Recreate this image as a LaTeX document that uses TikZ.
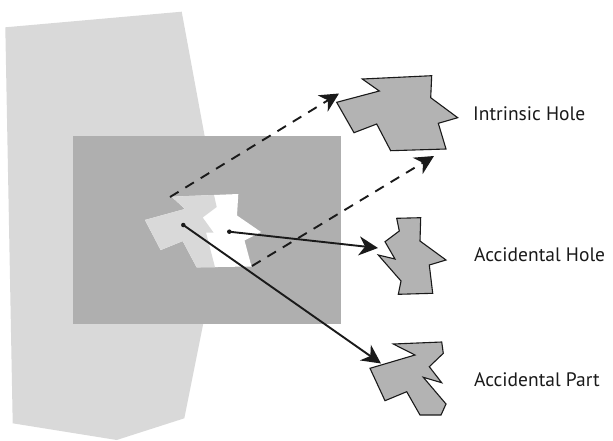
\documentclass[tikz,border=0pt]{standalone}
\usepackage{fontspec}
\setmainfont{PT Sans}
\usetikzlibrary{arrows.meta}
\definecolor{pale}{HTML}{D9D9D9}
\definecolor{slab}{HTML}{AFAFAF}
\definecolor{shapefill}{HTML}{B3B3B3}
\definecolor{ink}{HTML}{1A1A1A}
\begin{document}
\begin{tikzpicture}[x=1pt,y=-1pt,
  shapeline/.style={draw=ink, line width=1.1pt, fill=shapefill, line join=miter},
  flow/.style={line width=1.9pt, draw=ink, -{Stealth[length=19pt,width=19pt,inset=6pt]}},
  dashflow/.style={flow, dash pattern=on 10pt off 8pt},
  tag/.style={anchor=base west, font=\fontsize{19.5}{22}\selectfont, text=ink, inner sep=0pt},
  dotmark/.style={circle, fill=ink, inner sep=0pt, minimum size=4.5pt}]
\useasboundingbox (0,0) rectangle (613,440);

% background body and the slab cut into it
\fill[pale] (5.3,27.3) -- (181.7,11.7) -- (222,230) -- (184.3,418.3) -- (116.7,440) -- (12.7,423.3) -- cycle;
\fill[slab] (73,136) rectangle (341,324);

% the hole in the slab (white) with the part sitting in it (pale)
\fill[white] (171.7,196.7) -- (238.3,194) -- (237,215.5) -- (261,232) -- (244.5,240.5) -- (251.5,266.5)
  -- (196.7,267.3) -- (182.7,241) -- (160.7,250) -- (145,220) -- (185,209) -- cycle;
\fill[pale] (171.7,196.7) -- (214,195) -- (216.7,207) -- (202.7,217.5) -- (213.5,232.5) -- (206,232.5)
  -- (215,267.3) -- (196.7,267.3) -- (182.7,241) -- (160.7,250) -- (145,220) -- (185,209) -- cycle;

% intrinsic hole
\draw[shapeline] (362.3,79) -- (431.7,75.7) -- (430.7,97.7) -- (457.7,117.7) -- (438.3,123.3) -- (446,149)
  -- (390.7,150.7) -- (376.7,124) -- (354,132.7) -- (336.7,102.3) -- (379.3,91) -- cycle;
% accidental hole
\draw[shapeline] (396.7,218.3) -- (420.7,217.7) -- (420,241) -- (446,260) -- (429.3,265) -- (432.7,293.3)
  -- (398.3,294.3) -- (401,281) -- (378.3,255) -- (395,259) -- (385,241.7) -- (399.3,231) -- cycle;
% accidental part
\draw[shapeline] (393.3,344) -- (441.7,342) -- (443.3,353.3) -- (429.3,366.7) -- (441.7,382.7) -- (423.3,377.3)
  -- (446,404) -- (441,415) -- (420,415) -- (406.7,391.7) -- (385,400.7) -- (370,368.3) -- (415,355) -- cycle;

% connector end points
\coordinate (h1) at (170,197);
\coordinate (h2) at (252,266);
\coordinate (t1) at (339,93.5);
\coordinate (t2) at (434,156);
\node[dotmark] (p) at (183.3,225) {};
\node[dotmark] (q) at (229.3,231.7) {};
\coordinate (tp) at (381,363.5);
\coordinate (tq) at (378,248);

\draw[dashflow] (h1) -- (t1);
\draw[dashflow] (h2) -- (t2);
\draw[flow] (p.center) -- (tp);
\draw[flow] (q.center) -- (tq);

% labels
\node[tag] (l1) at (473,120) {Intrinsic Hole};
\node[tag] (l2) at (474,261.7) {Accidental Hole};
\node[tag] (l3) at (474,386.7) {Accidental Part};
\end{tikzpicture}
\end{document}
